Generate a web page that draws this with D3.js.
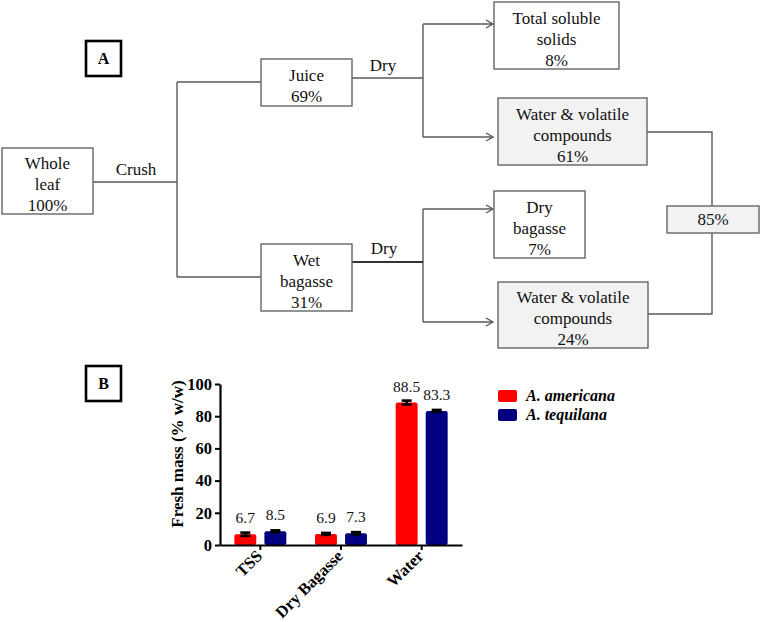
<!DOCTYPE html>
<html><head><meta charset="utf-8"><script src="https://cdn.jsdelivr.net/npm/d3@7"></script>
<style>
@font-face{font-family:"SerifX";src:local("Liberation Serif"),local("LiberationSerif"),local("Tinos");font-weight:400;font-style:normal;font-display:swap}
@font-face{font-family:"SerifX";src:local("Liberation Serif Bold"),local("LiberationSerif-Bold"),local("Tinos Bold");font-weight:700;font-style:normal;font-display:swap}
@font-face{font-family:"SerifX";src:local("Liberation Serif Bold Italic"),local("LiberationSerif-BoldItalic"),local("Tinos Bold Italic");font-weight:700;font-style:italic;font-display:swap}
</style></head>
<body style="margin:0">
<svg id="c" width="761" height="622"></svg>
<script>
// ---------- Panel B data ----------
const categories = ["TSS", "Dry Bagasse", "Water"];
const series = ["A. americana", "A. tequilana"];
const americana = [6.7, 6.9, 88.5];
const tequilana = [8.5, 7.3, 83.3];
const americanaErr = [1.0, 0.6, 1.2];
const tequilanaErr = [0.6, 0.7, 0.6];
const yTicks = [0, 20, 40, 60, 80, 100];
const yTitle = "Fresh mass (% w/w)";
const seriesColors = ["#ff0000", "#000080"];

// ---------- Panel A data (flow diagram) ----------
const nodeIds = ["leaf", "juice", "wet", "tss", "water1", "drybag", "water2", "total"];
const nodeLines = [
  ["Whole", "leaf", "100%"],
  ["Juice", "69%"],
  ["Wet", "bagasse", "31%"],
  ["Total soluble", "solids", "8%"],
  ["Water & volatile", "compounds", "61%"],
  ["Dry", "bagasse", "7%"],
  ["Water & volatile", "compounds", "24%"],
  ["85%"]
];
const stepLabels = ["Crush", "Dry", "Dry"];

// ---------- layout (positions/styles, not data) ----------
const FF = `"Liberation Serif", "SerifX", "Tinos", "Times New Roman", serif`;
const gray = "#f2f2f2";
const boxLayout = {
  leaf:   {x: 2,   y: 148, w: 91,  h: 66, fill: "#fff"},
  juice:  {x: 261, y: 59,  w: 91,  h: 47, fill: "#fff"},
  wet:    {x: 261, y: 244, w: 91,  h: 67, fill: "#fff"},
  tss:    {x: 494, y: 2,   w: 125, h: 67, fill: "#fff"},
  water1: {x: 498, y: 98,  w: 149, h: 67, fill: gray},
  drybag: {x: 494, y: 191, w: 91,  h: 67, fill: "#fff"},
  water2: {x: 498, y: 282, w: 150, h: 66, fill: gray},
  total:  {x: 667, y: 206, w: 92,  h: 27, fill: gray}
};
const labelLayout = [{x: 136, y: 175}, {x: 383, y: 71}, {x: 384, y: 254}];

const svg = d3.select("#c");
const lineCol = "#5a5a5a";
function setFont(sel) { sel.each(function () { this.style.setProperty("font-family", FF, "important"); }); return sel; }
function txt(sel) { return setFont(sel.append("text")); }

// connectors
const conn = svg.append("g").attr("fill", "none").attr("stroke", lineCol).attr("stroke-width", 1.4);
const paths = [
  "M93,182H177", "M177,82V277", "M177,82H261", "M177,277H261",
  "M352,78H423", "M423,24V137", "M423,24H493", "M423,137H493",
  "M423,209V322", "M423,209H493", "M423,322H493",
  "M647,132H712V206", "M712,233V314H648"
];
paths.forEach(p => conn.append("path").attr("d", p));
conn.append("path").attr("d", "M352,262H423").attr("stroke-width", 2.2).attr("stroke", "#333");
[[493, 24], [493, 137], [493, 209], [493, 322]].forEach(([ax, ay]) => {
  conn.append("path").attr("d", `M${ax-7},${ay-4}L${ax},${ay}L${ax-7},${ay+4}`);
});

// boxes
nodeIds.forEach((id, i) => {
  const b = boxLayout[id];
  svg.append("rect").attr("x", b.x).attr("y", b.y).attr("width", b.w).attr("height", b.h)
    .attr("fill", b.fill).attr("stroke", "#666").attr("stroke-width", 1.4);
  const lines = nodeLines[i];
  const n = lines.length;
  const cx = b.x + b.w / 2, cy = b.y + b.h / 2;
  const off = n > 1 ? 9 : 5.5;
  lines.forEach((t, j) => {
    txt(svg).attr("x", cx).attr("y", cy + off + (j - (n - 1) / 2) * 21)
      .attr("text-anchor", "middle").attr("font-size", 17)
      .attr("fill", "#111").text(t);
  });
});
stepLabels.forEach((t, i) => {
  txt(svg).attr("x", labelLayout[i].x).attr("y", labelLayout[i].y)
    .attr("text-anchor", "middle").attr("font-size", 17)
    .attr("fill", "#111").text(t);
});

// panel letters
[["A", 41], ["B", 366]].forEach(([t, y0]) => {
  svg.append("rect").attr("x", 86).attr("y", y0).attr("width", 35).attr("height", 35)
    .attr("fill", "#fff").attr("stroke", "#000").attr("stroke-width", 2.6);
  txt(svg).attr("x", 103.5).attr("y", y0 + 23).attr("text-anchor", "middle")
    .attr("font-weight", "bold").attr("font-size", 16).text(t);
});

// ---------- Panel B chart ----------
const x0 = d3.scaleBand().domain(categories).range([220, 462]);
const x1 = d3.scaleBand().domain(series).range([0, 52]).paddingInner(0.27);
const inOff = (x0.bandwidth() - 52) / 2;
const y = d3.scaleLinear().domain([0, 100]).range([545, 384]);

const values = [americana, tequilana];
const errs = [americanaErr, tequilanaErr];

series.forEach((s, si) => {
  categories.forEach((c, ci) => {
    const v = values[si][ci], e = errs[si][ci];
    const bx = x0(c) + inOff + x1(s), bw = x1.bandwidth();
    const cxm = bx + bw / 2;
    svg.append("rect").attr("x", bx).attr("y", y(v)).attr("width", bw)
      .attr("height", y(0) - y(v)).attr("rx", 2).attr("fill", seriesColors[si]);
    const eg = svg.append("g").attr("stroke", "#000").attr("stroke-width", 2.6);
    eg.append("line").attr("x1", cxm).attr("x2", cxm).attr("y1", y(v - e)).attr("y2", y(v + e));
    [v - e, v + e].forEach(ev => eg.append("line").attr("x1", cxm - 5).attr("x2", cxm + 5)
      .attr("y1", y(ev)).attr("y2", y(ev)));
    txt(svg).attr("x", cxm).attr("y", y(v) - 11).attr("text-anchor", "middle")
      .attr("font-size", 15.5).attr("fill", "#111").text(v.toFixed(1));
  });
});

// axes
const yAxis = svg.append("g").attr("transform", "translate(220,0)")
  .call(d3.axisLeft(y).tickValues(yTicks).tickSize(5).tickSizeOuter(0).tickPadding(3));
const xAxis = svg.append("g").attr("transform", "translate(0,545)")
  .call(d3.axisBottom(x0).tickSize(5).tickSizeOuter(0));
[yAxis, xAxis].forEach(a => {
  a.attr("font-family", null).attr("font-size", null);
  a.select(".domain").attr("stroke", "#000").attr("stroke-width", 2.2);
  a.selectAll(".tick line").attr("stroke", "#000").attr("stroke-width", 2);
  setFont(a.selectAll("text")).attr("font-weight", "bold")
    .attr("font-size", 16.5).attr("fill", "#000");
});
xAxis.selectAll(".tick text").attr("text-anchor", "end").attr("dy", null)
  .attr("transform", "translate(3,12) rotate(-45)").attr("y", 0).attr("x", 0);

txt(svg).attr("transform", "translate(183,454) rotate(-90)")
  .attr("text-anchor", "middle").attr("font-weight", "bold")
  .attr("font-size", 17).text(yTitle);

// legend
series.forEach((s, i) => {
  svg.append("rect").attr("x", 498).attr("y", 390 + i * 19).attr("width", 19).attr("height", 12)
    .attr("rx", 2).attr("fill", seriesColors[i]);
  txt(svg).attr("x", 526).attr("y", 401 + i * 19)
    .attr("font-weight", "bold").attr("font-style", "italic").attr("font-size", 16).text(s);
});
</script></body></html>
